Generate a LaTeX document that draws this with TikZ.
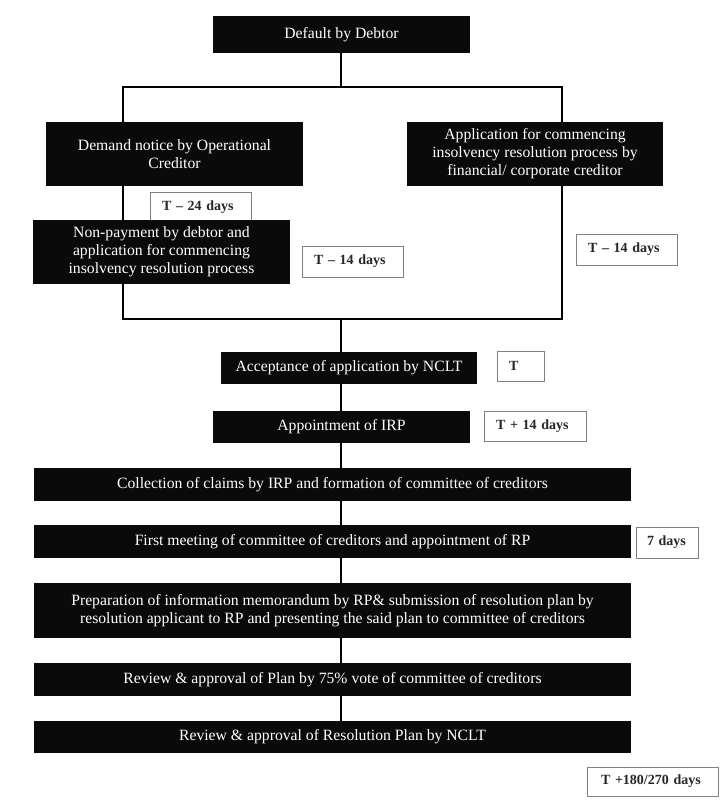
\documentclass[tikz,border=0pt]{standalone}
\usepackage{fontspec}
\setmainfont{Liberation Serif}
\begin{document}
\begin{tikzpicture}[
  x=1pt,y=-1pt,
  blk/.style={fill=black!96, text=white, inner sep=0pt, align=center,
    font=\fontsize{15.7}{18}\selectfont},
  lbl/.style={draw=black!50, line width=0.9pt, fill=white, inner xsep=12pt,
    inner ysep=0pt, align=left, text=black!85, font=\fontsize{14}{16}\selectfont\bfseries},
  conn/.style={line width=2.6pt, draw=black, line join=miter}
]
\useasboundingbox (0,0) rectangle (720,800);

% nodes
\node[blk, minimum width=257pt, minimum height=37pt] (def) at (341.5,34.5) {Default by Debtor};
\node[blk, minimum width=257pt, minimum height=64pt] (dem) at (174.5,154) {Demand notice by Operational\\Creditor};
\node[blk, minimum width=256pt, minimum height=64pt] (app) at (535,154) {Application for commencing\\insolvency resolution process by\\financial/ corporate creditor};
\node[lbl, text width=77pt, minimum height=30pt] (t24) at (200.5,207) {T – 24 days};
\node[blk, minimum width=257pt, minimum height=64pt] (non) at (161.5,252) {Non-payment by debtor and\\application for commencing\\insolvency resolution process};
\node[lbl, text width=77pt, minimum height=31pt] (t14a) at (352.5,261.5) {T – 14 days};
\node[lbl, text width=77pt, minimum height=31pt] (t14b) at (626.5,249.5) {T – 14 days};
\node[blk, minimum width=256pt, minimum height=32pt] (acc) at (349,368) {Acceptance of application by NCLT};
\node[lbl, text width=23pt, minimum height=30pt] (tT) at (520.5,366) {T};
\node[blk, minimum width=257pt, minimum height=32pt] (irp) at (341.5,427) {Appointment of IRP};
\node[lbl, text width=78pt, minimum height=30pt] (t14c) at (535,426) {T + 14 days};
\node[blk, minimum width=597pt, minimum height=33pt] (col) at (332.5,484.5) {Collection of claims by IRP and formation of committee of creditors};
\node[blk, minimum width=597pt, minimum height=33pt] (fm) at (332.5,541.5) {First meeting of committee of creditors and appointment of RP};
\node[lbl, inner xsep=11pt, text width=40pt, minimum height=31pt] (d7) at (667,542.5) {7 days};
\node[blk, minimum width=597pt, minimum height=55pt] (prep) at (332.5,610.5) {Preparation of information memorandum by RP\& submission of resolution plan by\\resolution applicant to RP and presenting the said plan to committee of creditors};
\node[blk, minimum width=597pt, minimum height=33pt] (rev) at (332.5,679.5) {Review \& approval of Plan by 75\% vote of committee of creditors};
\node[blk, minimum width=597pt, minimum height=32pt] (ncl) at (332.5,737) {Review \& approval of Resolution Plan by NCLT};
\node[lbl, inner xsep=14pt, text width=103pt, minimum height=29pt] (t180) at (652.5,781.5) {T +180/270 days};

% junction points
\coordinate (jt) at (341,87);
\coordinate (jl) at (123,87);
\coordinate (jr) at (562,87);
\coordinate (jb) at (341,319);
\coordinate (bl) at (123,319);
\coordinate (br) at (562,319);

% connectors
\draw[conn] (def.south -| jt) -- (jt);
\draw[conn] (jl |- dem.north) -- (jl) -- (jr) -- (jr |- app.north);
\draw[conn] (jl |- dem.south) -- (jl |- non.north);
\draw[conn] (jl |- non.south) -- (bl) -- (br) -- (br |- app.south);
\draw[conn] (jb) -- (jb |- acc.north);
\draw[conn] (jb |- acc.south) -- (jb |- irp.north);
\draw[conn] (jb |- irp.south) -- (jb |- col.north);
\draw[conn] (jb |- col.south) -- (jb |- fm.north);
\draw[conn] (jb |- fm.south) -- (jb |- prep.north);
\draw[conn] (jb |- prep.south) -- (jb |- rev.north);
\draw[conn] (jb |- rev.south) -- (jb |- ncl.north);
\end{tikzpicture}
\end{document}
